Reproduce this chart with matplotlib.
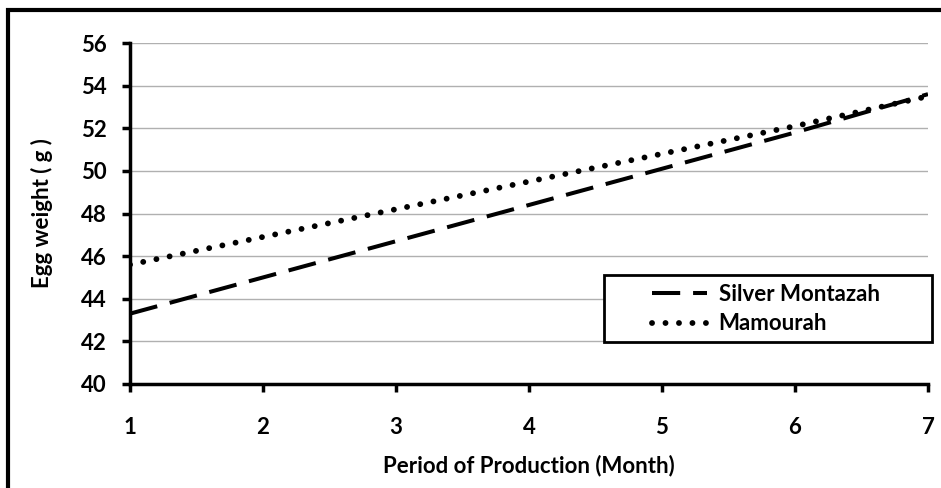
import matplotlib.pyplot as plt
from matplotlib.patches import Rectangle

months = [1, 2, 3, 4, 5, 6, 7]
silver = [43.3, 45.0, 46.7, 48.4, 50.1, 51.8, 53.6]
mamourah = [45.6, 46.9, 48.2, 49.5, 50.8, 52.1, 53.5]
yticks = [40, 42, 44, 46, 48, 50, 52, 54, 56]

plt.rcParams['font.family'] = ['Lato', 'DejaVu Sans']
plt.rcParams['font.weight'] = 'bold'
fs = 16

fig = plt.figure(figsize=(9.41, 4.88), dpi=100)
ax = fig.add_axes([130/941, 1 - 384/488, (928-130)/941, (384-43)/488])

# outer frame (right and bottom are cut off in the original)
fig.patches.append(Rectangle((8/941, -0.1), 1.2, 1 - 10/488 + 0.1, transform=fig.transFigure,
                             fill=False, edgecolor='black', linewidth=3))

ax.plot(months, silver, color='black', linewidth=2.9, linestyle=(0, (7, 3.2)),
        dash_capstyle='butt', label='Silver Montazah')
ax.plot(months, mamourah, color='black', linewidth=4.2, linestyle=(0, (0.01, 2.3)),
        dash_capstyle='round', label='Mamourah')

ax.set_xlim(1, 7)
ax.set_ylim(40, 56)
ax.set_yticks(yticks)
ax.set_xticks(months)
ax.yaxis.grid(True, color='#b0b0b0', linewidth=1)
ax.set_axisbelow(True)
for s in ['top', 'right']:
    ax.spines[s].set_visible(False)
for s in ['left', 'bottom']:
    ax.spines[s].set_linewidth(2.5)
ax.tick_params(axis='both', width=2.5, length=6, labelsize=fs, pad=11)
ax.tick_params(axis='x', pad=18)
ax.set_xlabel('Period of Production (Month)', fontsize=fs, fontweight='bold', labelpad=12)
ax.set_ylabel('Egg weight ( g )', fontsize=fs, fontweight='bold', labelpad=20)

leg = ax.legend(loc='center left', bbox_to_anchor=(0.654, 0.22), fontsize=fs, frameon=False,
                handlelength=2.5, handletextpad=0.5, borderpad=0, borderaxespad=0,
                labelspacing=0.4)
ax.add_patch(Rectangle((0.594, 0.123), 0.411, 0.197, transform=ax.transAxes, clip_on=False,
                       facecolor='white', edgecolor='black', linewidth=2, zorder=4))
leg.set_zorder(5)

fig.savefig('out.png', dpi=100)
